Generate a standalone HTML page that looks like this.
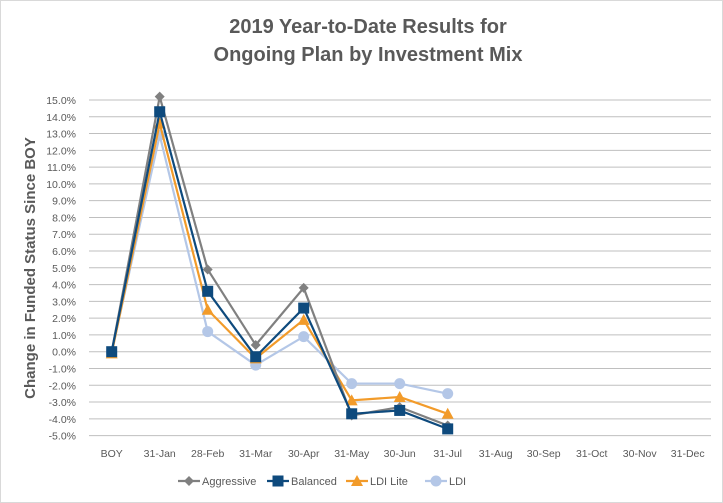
<!DOCTYPE html>
<html><head><meta charset="utf-8"><style>
body{margin:0;background:#fff}
svg{display:block;font-family:"Liberation Sans",sans-serif}
</style></head><body>
<svg id="c" width="723" height="503">
<rect x="0.5" y="0.5" width="722" height="502" fill="#fff" stroke="#d9d9d9"/>
<text x="368" y="33" text-anchor="middle" font-size="20" font-weight="bold" fill="#595959">2019 Year-to-Date Results for</text>
<text x="368" y="61" text-anchor="middle" font-size="20" font-weight="bold" fill="#595959">Ongoing Plan by Investment Mix</text>
<text transform="translate(35,268) rotate(-90)" text-anchor="middle" font-size="15" font-weight="bold" fill="#595959">Change in Funded Status Since BOY</text>
<g id="grid"></g><g id="series"></g><g id="legend"></g>
</svg>
<script>
const categories=["BOY","31-Jan","28-Feb","31-Mar","30-Apr","31-May","30-Jun","31-Jul","31-Aug","30-Sep","31-Oct","30-Nov","31-Dec"];
const yTicks=[-5,-4,-3,-2,-1,0,1,2,3,4,5,6,7,8,9,10,11,12,13,14,15];
const aggressive=[0,15.2,4.9,0.4,3.8,-3.8,-3.3,-4.4];
const balanced=[0,14.3,3.6,-0.3,2.6,-3.7,-3.5,-4.6];
const ldiLite=[-0.1,13.6,2.5,-0.4,1.9,-2.9,-2.7,-3.7];
const ldi=[0,12.9,1.2,-0.8,0.9,-1.9,-1.9,-2.5];
const NS="http://www.w3.org/2000/svg";
const y=v=>351.7-v*16.78;
const x=i=>111.7+i*48;
function mk(t,a,p){const e=document.createElementNS(NS,t);for(const k in a)e.setAttribute(k,a[k]);p.appendChild(e);return e;}
const grid=document.getElementById('grid');
yTicks.forEach(v=>{
 const l=mk('line',{x1:89,x2:711,y1:y(v),y2:y(v),stroke:'#bfbfbf','stroke-width':1},grid);
 
 
 const t=mk('text',{x:76,y:y(v)+4,'text-anchor':'end','font-size':10.5,fill:'#595959'},grid);
 t.textContent=v.toFixed(1)+'%';
 
 
});
categories.forEach((c,i)=>{
 const t=mk('text',{x:x(i),y:457,'text-anchor':'middle','font-size':10.5,fill:'#595959'},grid);
 t.textContent=c;
 
 
});
const sg=document.getElementById('series');
function marker(type,cx,cy,col,g){
 let m;
 if(type==='diamond')m=mk('path',{d:`M${cx} ${cy-5}L${cx+5} ${cy}L${cx} ${cy+5}L${cx-5} ${cy}Z`,fill:col},g);
 else if(type==='square')m=mk('rect',{x:cx-5.5,y:cy-5.5,width:11,height:11,fill:col},g);
 else if(type==='tri')m=mk('path',{d:`M${cx} ${cy-6}L${cx+6} ${cy+5}L${cx-6} ${cy+5}Z`,fill:col},g);
 else m=mk('circle',{cx:cx,cy:cy,r:5.5,fill:col},g);
 return m;
}
const series=[
 {name:'ldi',label:'LDI',vals:ldi,col:'#b4c7e7',m:'circle'},
 {name:'ldi-lite',label:'LDI Lite',vals:ldiLite,col:'#f29b2a',m:'tri'},
 {name:'aggressive',label:'Aggressive',vals:aggressive,col:'#808080',m:'diamond'},
 {name:'balanced',label:'Balanced',vals:balanced,col:'#0e4a7d',m:'square'}
];
series.forEach(s=>{
 const g=mk('g',{},sg);
 
 
 const pl=mk('polyline',{points:s.vals.map((v,i)=>x(i)+','+y(v)).join(' '),fill:'none',stroke:s.col,'stroke-width':2.2},g);
 
 
 s.vals.forEach((v,i)=>{
  const m=marker(s.m,x(i),y(v),s.col,g);
  
  
 });
});
const lg=document.getElementById('legend');
const legendOrder=[series[2],series[3],series[1],series[0]];
const lx=[178,267,346,425];
legendOrder.forEach((s,i)=>{
 const g=mk('g',{},lg);
 
 
 mk('line',{x1:lx[i],x2:lx[i]+22,y1:481,y2:481,stroke:s.col,'stroke-width':2.2},g);
 marker(s.m,lx[i]+11,481,s.col,g);
 const t=mk('text',{x:lx[i]+24,y:485,'font-size':11,fill:'#595959'},g);
 t.textContent=s.label;
});
</script>
</body></html>
